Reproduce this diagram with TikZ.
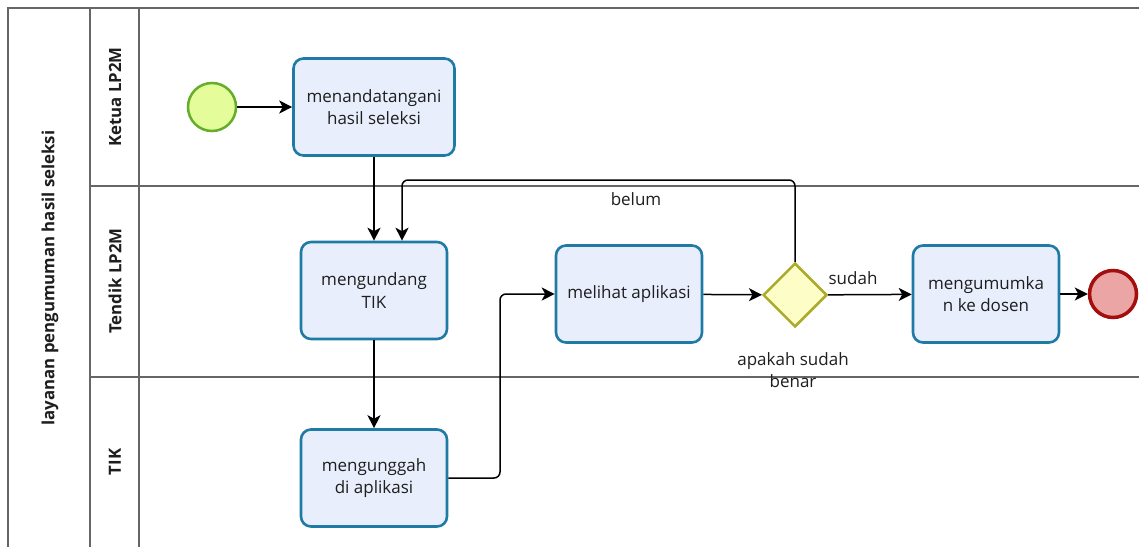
\documentclass[tikz,border=0pt]{standalone}
\usepackage{fontspec}
\setmainfont{Open Sans}
\usetikzlibrary{shapes.geometric,arrows.meta}
\definecolor{taskfill}{HTML}{E8EEFC}
\definecolor{taskdraw}{HTML}{1F7BA6}
\definecolor{startfill}{HTML}{E4FD9A}
\definecolor{startdraw}{HTML}{66AE2A}
\definecolor{endfill}{HTML}{EBA5A5}
\definecolor{enddraw}{HTML}{A30E0E}
\definecolor{gwfill}{HTML}{FDFDC8}
\definecolor{gwdraw}{HTML}{ABAB2C}
\definecolor{lanecol}{HTML}{666666}
\definecolor{txt}{HTML}{1E1E1E}
\begin{document}
\begin{tikzpicture}[x=1pt,y=-1pt,
  task/.style={draw=taskdraw, fill=taskfill, line width=2.6pt, rounded corners=10pt,
    minimum width=146pt, minimum height=97pt, align=center, inner sep=0pt,
    font=\fontsize{17}{22.5}\selectfont, text=txt},
  startev/.style={circle, draw=startdraw, fill=startfill, line width=2.5pt, minimum size=48pt, inner sep=0pt},
  endev/.style={circle, draw=enddraw, fill=endfill, line width=3.5pt, minimum size=47pt, inner sep=0pt},
  gateway/.style={diamond, draw=gwdraw, fill=gwfill, line width=2.5pt, minimum width=64pt, minimum height=64pt, inner sep=0pt},
  lane/.style={draw=lanecol, line width=1.3pt},
  lanelabel/.style={rotate=90, font=\fontsize{16.8}{20}\selectfont\bfseries, text=txt},
  edgelabel/.style={font=\fontsize{17}{22.5}\selectfont, text=txt, align=center},
  arr/.style={draw=black, line width=1.5pt, -{Stealth[length=13pt,width=13pt,inset=3.5pt]}}
]
\clip (0,0) rectangle (1139,546);
\fill[white] (0,0) rectangle (1139,546);

% pool and lanes
\draw[lane] (1150,8) -- (8,8) -- (8,560);
\draw[lane] (90,8) -- (90,560);
\draw[lane] (139,8) -- (139,560);
\draw[lane] (90,186) -- (1150,186);
\draw[lane] (90,377) -- (1150,377);

\node[lanelabel] (pool) at (50,278) {layanan pengumuman hasil seleksi};
\node[lanelabel] (l1) at (115,97) {Ketua LP2M};
\node[lanelabel] (l2) at (115,281) {Tendik LP2M};
\node[lanelabel] (l3) at (115,462) {TIK};

% flow nodes
\node[startev] (start) at (212,107) {};
\node[task, minimum width=161pt] (t1) at (374,107) {menandatangani\\hasil seleksi};
\node[task] (t2) at (374,290.5) {mengundang\\TIK};
\node[task] (t3) at (374,478) {mengunggah\\di aplikasi};
\node[task] (t4) at (629,294) {melihat aplikasi};
\node[gateway] (gw) at (795,295) {};
\node[task] (t5) at (986,294) {mengumumka\\n ke dosen};
\node[endev] (end) at (1113,294) {};

\coordinate (lp) at (402,180);
\coordinate (mx) at (500,294);

% connectors
\draw[arr] (start) -- (t1);
\draw[arr] (t1) -- (t2);
\draw[arr] (t2) -- (t3);
\draw[arr, rounded corners=6pt] (t3.east) -| (mx) -- (t4.west);
\draw[arr] (t4) -- (gw);
\draw[arr] (gw) -- (t5);
\draw[arr] (t5) -- (end);
\draw[arr, rounded corners=6pt] (gw.north) |- (lp) -- (lp |- t2.north);

% labels
\node[edgelabel] (lbelum) at (636,199) {belum};
\node[edgelabel] (lsudah) at (853,278) {sudah};
\node[edgelabel] (lgw) at (793,370) {apakah sudah\\benar};
\end{tikzpicture}
\end{document}
